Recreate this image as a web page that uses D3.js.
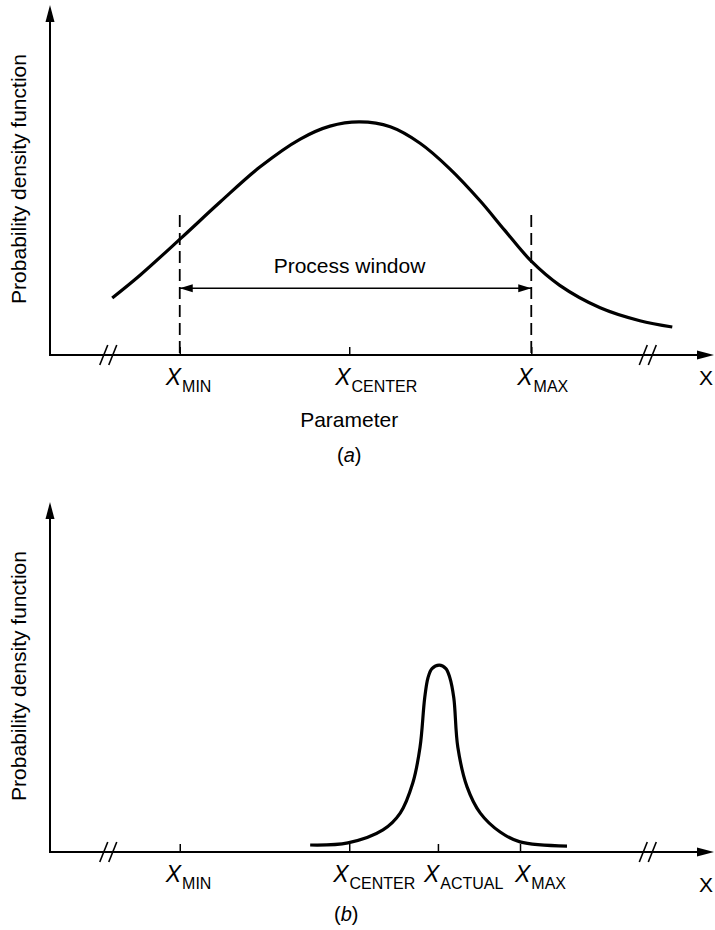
<!DOCTYPE html>
<html>
<head>
<meta charset="utf-8">
<title>Process window</title>
<style>
  body { margin: 0; background: #fff; }
  text { font-family: "Liberation Sans", Arial, Helvetica, sans-serif; fill: #000; }
</style>
</head>
<body>
<script src="https://cdnjs.cloudflare.com/ajax/libs/d3/7.8.5/d3.min.js"></script>
<script>
// parameter axis in arbitrary units 0..100, density axis 0..1
var tickA = [19.6, 45.2, 72.7];
var tickNameA = ["MIN", "CENTER", "MAX"];
var tickB = [19.6, 45.2, 58.6, 71.0];
var tickNameB = ["MIN", "CENTER", "ACTUAL", "MAX"];
var breakAt = [8.8, 90.3];

// (a) wide distribution
var curveAx = [9.4, 13.6, 19.8, 25.7, 31.7, 37.8, 42.3, 46.8, 51.4, 55.9, 60.4, 65.0, 68.7, 72.7, 77.0, 83.1, 89.1, 94.0];
var curveAy = [0.163, 0.228, 0.334, 0.437, 0.537, 0.617, 0.654, 0.666, 0.652, 0.605, 0.532, 0.440, 0.356, 0.268, 0.199, 0.135, 0.098, 0.080];

// (b) narrow distribution, shifted
var curveBx = [39.3, 45.0, 50.3, 52.9, 54.8, 55.9, 56.6, 57.1, 57.7, 58.8, 59.8, 60.4, 61.0, 61.6, 63.0, 65.0, 68.0, 71.0, 78.1];
var curveBy = [0.020, 0.026, 0.063, 0.111, 0.197, 0.300, 0.440, 0.498, 0.524, 0.534, 0.524, 0.498, 0.440, 0.300, 0.186, 0.111, 0.057, 0.029, 0.017];

var windowTop = 0.40;     // top of the dashed limit lines
var windowArrow = 0.191;  // height of the process window arrow

var svg = d3.select("body").append("svg")
    .attr("width", 715)
    .attr("height", 930);

var defs = svg.append("defs");
defs.append("marker")
    .attr("id", "tip")
    .attr("markerUnits", "userSpaceOnUse")
    .attr("markerWidth", 14).attr("markerHeight", 10)
    .attr("refX", 13).attr("refY", 4.5)
    .attr("orient", "auto-start-reverse")
    .append("path")
    .attr("d", "M0,0.5 L13,4.5 L0,8.5 Z")
    .attr("fill", "#000");

var x = d3.scaleLinear().domain([0, 100]).range([50, 712]);

function drawPanel(top, base, ticks, names, cx, cy, tag, yLetter) {
    var y = d3.scaleLinear().domain([0, 1]).range([base, top]);
    var g = svg.append("g");

    // y axis with arrow
    g.append("line")
        .attr("x1", x(0)).attr("y1", base + 1)
        .attr("x2", x(0)).attr("y2", top + 12)
        .attr("stroke", "#000").attr("stroke-width", 2);
    g.append("path")
        .attr("d", "M" + x(0) + "," + top + " l-4.5,17 l9,0 Z")
        .attr("fill", "#000");

    // x axis with arrow
    g.append("line")
        .attr("x1", x(0) - 1).attr("y1", base)
        .attr("x2", x(100) - 10).attr("y2", base)
        .attr("stroke", "#000").attr("stroke-width", 2);
    g.append("path")
        .attr("d", "M" + (x(100) + 2) + "," + base + " l-17,-4.5 l0,9 Z")
        .attr("fill", "#000");

    // ticks
    var ax = g.append("g")
        .attr("transform", "translate(0," + base + ")")
        .call(d3.axisBottom(x).tickValues(ticks).tickSizeInner(-8).tickSizeOuter(0).tickFormat(""));
    ax.select(".domain").remove();
    ax.selectAll(".tick line").attr("stroke", "#000").attr("stroke-width", 1.5);

    // axis breaks
    breakAt.forEach(function (b) {
        [-4.5, 4.5].forEach(function (o) {
            g.append("line")
                .attr("x1", x(b) + o - 4).attr("y1", base + 10)
                .attr("x2", x(b) + o + 4).attr("y2", base - 10)
                .attr("stroke", "#000").attr("stroke-width", 1.6);
        });
    });

    // tick labels
    names.forEach(function (n, i) {
        var shift = (tag === "b" && n === "MAX") ? -5 : (tag === "b" && n === "CENTER") ? -16 : -14;
        var t = g.append("text")
            .attr("x", x(ticks[i]) + shift)
            .attr("y", base + 30);
        t.append("tspan").text("X").attr("font-style", "italic").attr("font-size", 23);
        t.append("tspan").text(n).attr("font-size", 16).attr("dx", 1).attr("dy", 7);
    });

    // axis end label
    g.append("text")
        .attr("x", 699).attr("y", base + yLetter)
        .attr("font-size", 21)
        .text("X");

    // y title
    g.append("text")
        .attr("transform", "translate(26," + (top + (base - top) / 2 - 1) + ") rotate(-90)")
        .attr("text-anchor", "middle")
        .attr("font-size", 21)
        .text("Probability density function");

    // distribution curve
    var line = d3.line()
        .x(function (d) { return x(d[0]); })
        .y(function (d) { return y(d[1]); })
        .curve(d3.curveCatmullRom.alpha(0.5));
    g.append("path")
        .datum(d3.zip(cx, cy))
        .attr("d", line)
        .attr("fill", "none")
        .attr("stroke", "#000")
        .attr("stroke-width", 3.2);

    return { g: g, y: y };
}

// panel (a)
var pa = drawPanel(5, 355, tickA, tickNameA, curveAx, curveAy, "a", 30);

[tickA[0], tickA[2]].forEach(function (v) {
    pa.g.append("line")
        .attr("x1", x(v)).attr("y1", pa.y(windowTop))
        .attr("x2", x(v)).attr("y2", pa.y(0))
        .attr("stroke", "#000").attr("stroke-width", 1.8)
        .attr("stroke-dasharray", "12,6");
});
pa.g.append("line")
    .attr("x1", x(tickA[0])).attr("y1", pa.y(windowArrow))
    .attr("x2", x(tickA[2])).attr("y2", pa.y(windowArrow))
    .attr("stroke", "#000").attr("stroke-width", 1.5)
    .attr("marker-start", "url(#tip)")
    .attr("marker-end", "url(#tip)");
pa.g.append("text")
    .attr("x", x((tickA[0] + tickA[2]) / 2) - 6).attr("y", pa.y(windowArrow) - 15)
    .attr("text-anchor", "middle").attr("font-size", 21)
    .text("Process window");
pa.g.append("text")
    .attr("x", x(tickA[1])).attr("y", 427)
    .attr("text-anchor", "middle").attr("font-size", 21)
    .text("Parameter");
var capA = pa.g.append("text")
    .attr("x", x(tickA[1])).attr("y", 462)
    .attr("text-anchor", "middle").attr("font-size", 20);
capA.append("tspan").text("(");
capA.append("tspan").text("a").attr("font-style", "italic");
capA.append("tspan").text(")");

// panel (b)
var pb = drawPanel(502, 852, tickB, tickNameB, curveBx, curveBy, "b", 40);
var capB = pb.g.append("text")
    .attr("x", x(tickB[1]) - 3).attr("y", 921)
    .attr("text-anchor", "middle").attr("font-size", 20);
capB.append("tspan").text("(");
capB.append("tspan").text("b").attr("font-style", "italic");
capB.append("tspan").text(")");
</script>
</body>
</html>
